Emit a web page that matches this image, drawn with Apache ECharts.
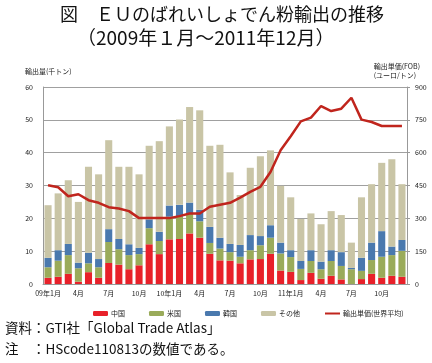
<!DOCTYPE html>
<html><head><meta charset="utf-8">
<script src="https://cdn.jsdelivr.net/npm/echarts@6/dist/echarts.min.js"></script>
<style>html,body{margin:0;padding:0;background:#fff}#c{width:432px;height:363px}</style>
</head><body><div id="c"></div>
<script>
const months = ['09年1月','2','3','4月','5','6','7月','8','9','10月','11','12',
  '10年1月','2','3','4月','5','6','7月','8','9','10月','11','12',
  '11年1月','2','3','4月','5','6','7月','8','9','10月','11','12'];
const china = [1.9,2.2,3.1,0.7,3.6,1.9,6.4,5.9,4.5,5.7,12.1,9.1,
  13.6,13.7,15.4,14.1,9.2,7.2,7.1,6.3,7.5,7.6,9.2,4.1,
  3.7,1.2,3.4,1.6,2.5,1.4,0,1.5,3.1,1.9,2.5,2.2];
const usa = [3.2,4.9,5.7,4.1,2.7,3.2,6.4,4.7,4.3,3.4,4.9,4.0,
  6.9,6.8,5.9,5.0,3.3,3.6,2.6,2.0,2.8,4.2,4.9,5.2,
  4.5,3.4,3.6,2.9,4.5,4.1,4.5,2.5,4.2,6.4,6.3,7.9];
const korea = [2.9,3.2,3.4,1.7,3.2,2.5,3.9,3.1,3.3,1.9,2.7,2.8,
  3.4,3.6,3.5,3.5,4.9,3.3,2.5,3.6,4.6,2.8,3.8,3.3,
  2.1,2.4,3.3,2.3,3.3,4.2,0.4,4.0,5.3,7.8,2.6,3.3];
const others = [16.0,17.3,19.4,18.5,26.2,25.8,27.1,22.0,23.6,22.4,22.4,27.6,
  24.1,26.0,29.1,30.3,24.7,28.3,21.8,15.2,20.5,24.3,22.8,17.3,
  16.1,12.8,11.2,11.4,11.9,11.3,7.7,18.4,17.8,20.8,26.6,17.0];
const unitPrice = [451,442,401,410,383,371,351,345,333,301,301,301,
  301,310,322,322,353,362,371,395,421,444,512,611,
  675,743,760,813,790,801,851,751,740,722,722,722];

const font = '"Noto Sans CJK JP", sans-serif';
const chart = echarts.init(document.getElementById('c'));
const barBase = {type:'bar', stack:'t', barCategoryGap:'30%', yAxisIndex:0};
chart.setOption({
  animation:false,
  textStyle:{fontFamily:font},
  graphic:[
    {type:'text', left:60, top:5, style:{text:'図　ＥＵのばれいしょでん粉輸出の推移', fontSize:18, fill:'#111', fontFamily:font}},
    {type:'text', left:77, top:28, style:{text:'（2009年１月～2011年12月）', fontSize:19, fill:'#111', fontFamily:font}},
    {type:'text', left:25, top:68, style:{text:'輸出量(千トン)', fontSize:7, fill:'#222', fontFamily:font}},
    {type:'text', right:12, top:62, style:{text:'輸出単価(FOB)\n(ユーロ/トン)', fontSize:7, fill:'#222', lineHeight:9, align:'center', fontFamily:font}},
    {type:'text', left:5, top:321, style:{text:'資料：GTI社「Global Trade Atlas」', fontSize:13.5, fill:'#111', fontFamily:font}},
    {type:'text', left:5, top:342, style:{text:'注　：HScode110813の数値である。', fontSize:13.5, fill:'#111', fontFamily:font}}
  ],
  legend:{
    top:305, left:88, itemWidth:15, itemHeight:5, itemGap:24,
    textStyle:{fontSize:7, color:'#222', padding:[0,0,0,-2]},
    data:['中国','米国','韓国','その他',
      {name:'輸出単価(世界平均)', itemStyle:{opacity:0}}]
  },
  grid:{left:43, right:25, top:87, bottom:79},
  xAxis:{
    type:'category', data:months,
    axisLine:{lineStyle:{color:'#999'}},
    axisTick:{show:false},
    axisLabel:{interval:2, fontSize:7, color:'#222', margin:6,
      formatter:v=>v.indexOf('月')>=0?v:''}
  },
  yAxis:[
    {type:'value', min:0, max:60, interval:10,
      axisLine:{show:true, lineStyle:{color:'#999'}},
      axisTick:{show:false},
      axisLabel:{fontSize:7, color:'#222', margin:10},
      splitLine:{lineStyle:{color:'#a0a0a0'}}},
    {type:'value', min:0, max:900, interval:150,
      axisLine:{show:true, lineStyle:{color:'#999'}},
      axisTick:{show:true, length:3, lineStyle:{color:'#999'}},
      axisLabel:{fontSize:7, color:'#222', margin:8},
      splitLine:{show:false}}
  ],
  series:[
    Object.assign({name:'中国', data:china, itemStyle:{color:'#e8212a'}}, barBase),
    Object.assign({name:'米国', data:usa, itemStyle:{color:'#9aab5a'}}, barBase),
    Object.assign({name:'韓国', data:korea, itemStyle:{color:'#4a79ae'}}, barBase),
    Object.assign({name:'その他', data:others, itemStyle:{color:'#c9c5a6'}}, barBase),
    {name:'輸出単価(世界平均)', type:'line', yAxisIndex:1, data:unitPrice,
      symbol:'none', lineStyle:{color:'#c0251d', width:2.5}, itemStyle:{color:'#c0251d'}}
  ]
});
</script></body></html>
